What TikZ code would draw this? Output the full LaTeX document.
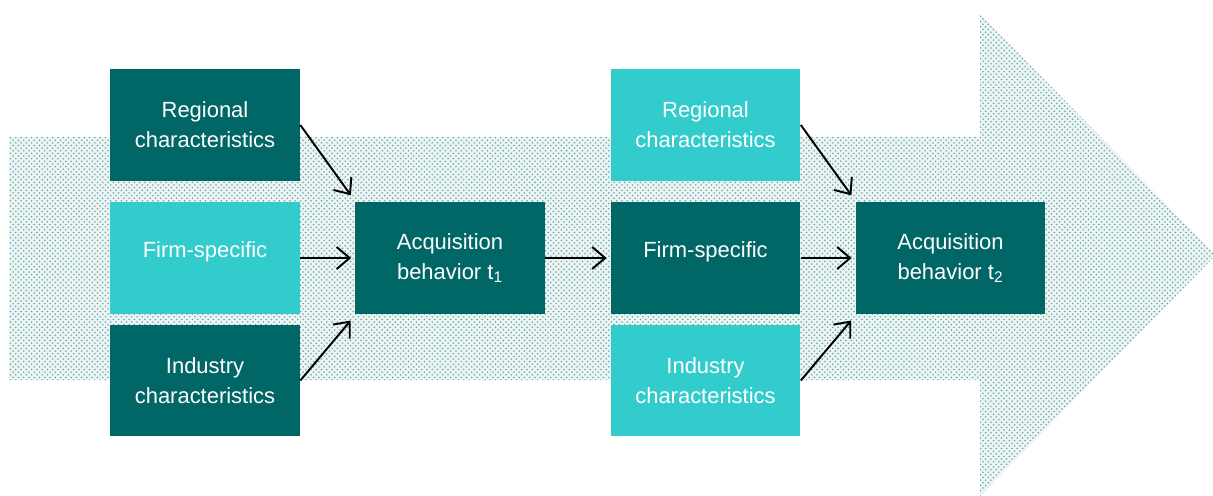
\documentclass[tikz,border=0pt]{standalone}
\usepackage{fontspec}
\setmainfont{Liberation Sans}
\usetikzlibrary{arrows.meta,patterns}
\definecolor{darkteal}{RGB}{0,102,102}
\definecolor{lightteal}{RGB}{51,204,204}
\definecolor{dotteal}{RGB}{95,168,168}
\definecolor{paleteal}{RGB}{238,244,244}
\tikzset{
  box/.style={rectangle, minimum width=3.8cm, minimum height=2.24cm,
    inner sep=0pt, align=center, text=white,
    font=\fontsize{12.5}{17}\selectfont},
  dark/.style={box, fill=darkteal},
  light/.style={box, fill=lightteal},
  link/.style={-{Straight Barb[length=2.6mm,width=4.4mm]}, line width=1.1pt,
    shorten >=2pt}
}
\begin{document}
\begin{tikzpicture}[x=0.02cm, y=-0.02cm]
      \useasboundingbox (0,0) rectangle (1213,496);
      % time arrow in the background
      \path[fill=paleteal, postaction={pattern=crosshatch dots, pattern color=dotteal}]
        (9,137) -- (980,137) -- (980,14) -- (1216,255)
        -- (980,496) -- (980,380) -- (9,380) -- cycle;
      \draw
        (205,125) node[dark] (r1){Regional\\characteristics}
        (205,258) node[light] (f1){\raisebox{10pt}{Firm-specific}}
        (205,380.5) node[dark] (i1){Industry\\characteristics}
        (450,258) node[dark] (a1){Acquisition\\behavior t\textsubscript{1}}
        (705.5,125) node[light] (r2){Regional\\characteristics}
        (705.5,258) node[dark] (f2){\raisebox{10pt}{Firm-specific}}
        (705.5,380.5) node[light] (i2){Industry\\characteristics}
        (950.5,258) node[dark] (a2){Acquisition\\behavior t\textsubscript{2}};
      \begin{scope}[link]
        \draw (r1.east) to ([xshift=-1pt,yshift=2pt]a1.north west);
        \draw (f1.east) to (a1.west);
        \draw (i1.east) to ([xshift=-1pt,yshift=-2pt]a1.south west);
        \draw (a1.east) to (f2.west);
        \draw (r2.east) to ([xshift=-1pt,yshift=2pt]a2.north west);
        \draw (f2.east) to (a2.west);
        \draw (i2.east) to ([xshift=-1pt,yshift=-2pt]a2.south west);
      \end{scope}
    \end{tikzpicture}
\end{document}
